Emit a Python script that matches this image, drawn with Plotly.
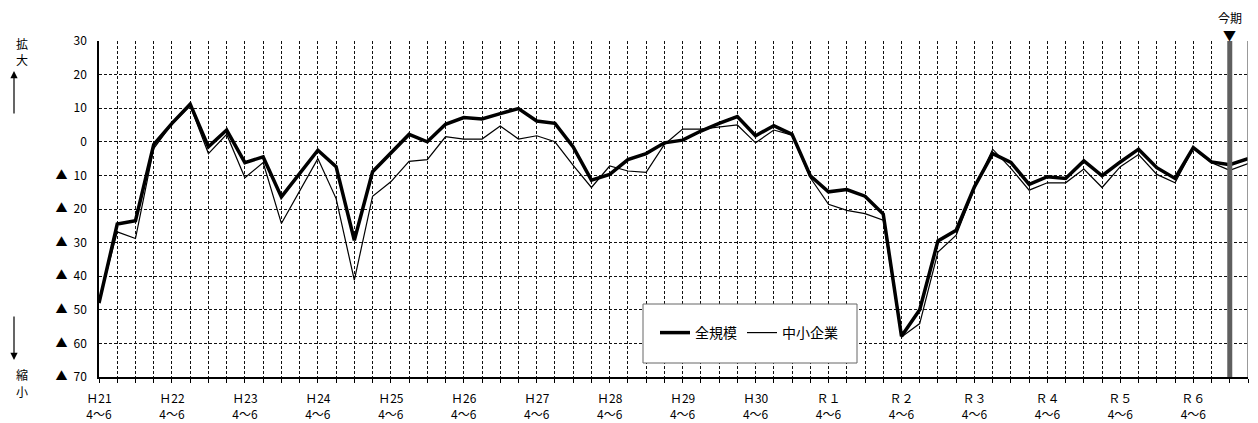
import plotly.graph_objects as go

# Quarterly survey index, H21 4~6 through R7 1~3 (one value per quarter)
all_sizes = [
    -48.0, -24.5, -23.5, -0.8, 5.5, 11.2, -1.5, 3.5, -6.2, -4.5, -16.4, -9.5,
    -2.5, -7.4, -29.3, -8.9, -3.5, 2.2, 0.0, 5.2, 7.2, 6.8, 8.4, 9.9,
    6.2, 5.5, -1.5, -11.4, -9.7, -5.3, -3.5, -0.3, 0.5, 3.2, 5.5, 7.5,
    1.8, 4.8, 2.2, -10.1, -14.9, -14.2, -16.2, -21.5, -57.9, -50.0, -29.5, -26.3,
    -13.4, -3.5, -6.1, -12.7, -10.4, -10.9, -5.7, -10.1, -6.0, -2.2, -7.7, -10.9,
    -1.7, -6.0, -6.8, -5.0,
]
small_medium = [
    -47.5, -26.8, -28.8, -2.0, 5.3, 10.7, -3.5, 2.2, -10.7, -6.2, -24.3, -14.6,
    -5.0, -16.9, -41.2, -16.2, -11.9, -5.8, -5.3, 1.5, 0.8, 0.8, 4.7, 0.8,
    1.8, 0.0, -7.0, -13.6, -7.2, -8.7, -9.1, -0.8, 3.8, 3.8, 4.5, 5.0,
    -0.3, 3.5, 2.0, -10.7, -18.6, -20.4, -21.4, -23.3, -58.1, -54.1, -32.8, -27.8,
    -13.9, -2.2, -7.9, -14.4, -12.2, -12.2, -8.1, -13.6, -7.4, -3.8, -9.7, -12.2,
    -2.0, -6.2, -8.5, -6.5,
]

# Fiscal-year labels, one per year at the 4~6 quarter
year_labels = ["Ｈ21", "Ｈ22", "Ｈ23", "Ｈ24", "Ｈ25", "Ｈ26", "Ｈ27", "Ｈ28",
               "Ｈ29", "Ｈ30", "Ｒ１", "Ｒ２", "Ｒ３", "Ｒ４", "Ｒ５", "Ｒ６"]
quarter_label = "4～6"
current_index = 62          # 今期
y_ticks = [30, 20, 10, 0, -10, -20, -30, -40, -50, -60, -70]

n = len(all_sizes)
xs = list(range(n))
x_ticktext = [""] * n
for k, yl in enumerate(year_labels):
    x_ticktext[4 * k] = f"{yl}<br>{quarter_label}"

y_ticktext = [str(v) if v >= 0 else "▲\u2002" + str(-v) for v in y_ticks]

FONT = "Noto Sans CJK JP"

# plot area in pixels
L, R, T, B = 99, 1248, 41, 377
W, H = R - L, B - T
px = lambda x: (x - L) / W
py = lambda y: (B - y) / H

fig = go.Figure()
fig.add_trace(go.Scatter(x=xs, y=all_sizes, mode="lines", name="全規模",
                         line=dict(color="black", width=3.5)))
fig.add_trace(go.Scatter(x=xs, y=small_medium, mode="lines", name="中小企業",
                         line=dict(color="black", width=1.2)))

grid = dict(showgrid=True, gridcolor="#111", griddash="3px,2px", gridwidth=1,
            zeroline=False, automargin=False)

fig.update_xaxes(range=[0, n - 1], tickmode="array", tickvals=xs, ticktext=x_ticktext,
                 ticks="outside", ticklen=4, tickcolor="black",
                 showline=True, linecolor="black", linewidth=1.5,
                 ticklabelstandoff=6,
                 tickfont=dict(size=12, color="black", family=FONT), **grid)
fig.update_yaxes(range=[-70, 30], tickmode="array", tickvals=y_ticks, ticktext=y_ticktext,
                 ticks="", showline=True, linecolor="black", linewidth=1.5,
                 ticklabelstandoff=8,
                 tickfont=dict(size=12, color="black", family=FONT), **grid)

# legend frame
fig.add_shape(type="rect", xref="paper", yref="paper",
              x0=px(643), x1=px(857), y0=py(363), y1=py(304),
              line=dict(color="#666", width=1), fillcolor="white", layer="above")
# right border
fig.add_shape(type="line", xref="x", yref="paper", x0=n - 1, x1=n - 1, y0=0, y1=1,
              line=dict(color="#777", width=1.5), layer="above")
# current-period marker bar
fig.add_shape(type="line", xref="x", yref="y", x0=current_index, x1=current_index,
              y0=-70, y1=30, line=dict(color="#5f5f5f", width=5), layer="above")

fig.add_annotation(x=current_index, xref="x", y=py(17), yref="paper", text="今期",
                   yshift=10, showarrow=False,
                   font=dict(size=12, color="black", family=FONT))
fig.add_annotation(x=current_index, xref="x", y=py(33), yref="paper", text="▼",
                   yshift=10, showarrow=False,
                   font=dict(size=13, color="black", family=FONT))

# direction labels on the left
for txt, yy, shift in [("拡", 41, 8), ("大", 57, 8), ("縮", 376, -9), ("小", 393, -9)]:
    fig.add_annotation(x=px(14), y=py(yy), xref="paper", yref="paper", text=txt,
                       yshift=shift, showarrow=False,
                       font=dict(size=12, color="black", family=FONT))
fig.add_annotation(x=px(14), y=py(71), xref="paper", yref="paper", ax=0, ay=44,
                   text="", showarrow=True, arrowhead=2, arrowsize=1.2,
                   arrowwidth=1.2, arrowcolor="black")
fig.add_annotation(x=px(14), y=py(360), xref="paper", yref="paper", ax=0, ay=-45,
                   text="", showarrow=True, arrowhead=2, arrowsize=1.2,
                   arrowwidth=1.2, arrowcolor="black")

fig.update_layout(
    width=1258, height=423, autosize=False,
    margin=dict(l=L, r=1258 - R, t=T, b=423 - B),
    plot_bgcolor="white", paper_bgcolor="white",
    font=dict(family=FONT, color="black"),
    showlegend=True,
    legend=dict(orientation="h", x=px(655), y=py(333), xanchor="left", yanchor="middle",
                bgcolor="rgba(0,0,0,0)", font=dict(size=14, color="black", family=FONT),
                itemwidth=30),
)

fig.write_html("out.html")
